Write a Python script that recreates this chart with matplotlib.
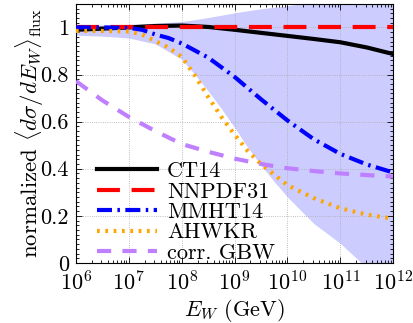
import numpy as np
import matplotlib
matplotlib.use("Agg")
import matplotlib.pyplot as plt
from matplotlib.ticker import MultipleLocator, FuncFormatter, LogLocator

plt.rcParams['font.family'] = 'serif'
plt.rcParams['font.serif'] = ['cmr10']
plt.rcParams['mathtext.fontset'] = 'cm'
plt.rcParams['axes.formatter.use_mathtext'] = True
plt.rcParams['font.size'] = 16

# log10(E_W / GeV) and curve values
logE_ct = [6, 6.5, 7, 7.5, 8, 8.5, 9, 9.5, 10, 10.5, 11, 11.5, 12]
ct14 = [0.99, 0.995, 1.0, 1.006, 1.008, 1.002, 0.99, 0.977, 0.964, 0.951, 0.937, 0.915, 0.887]

logE_nn = [6, 7, 8, 9, 10, 11, 12]
nnpdf31 = [1.0, 1.0, 1.0, 1.0, 1.0, 1.0, 1.0]

logE_mm = [6, 6.5, 7, 7.25, 7.5, 7.75, 8, 8.5, 9, 9.5, 10, 10.5, 11, 11.5, 12]
mmht14 = [1.0, 1.0, 0.998, 0.99, 0.97, 0.955, 0.932, 0.872, 0.79, 0.695, 0.605, 0.525, 0.463, 0.418, 0.384]

logE_ah = [6, 6.5, 7, 7.25, 7.5, 7.75, 8, 8.25, 8.5, 8.75, 9, 9.25, 9.5, 9.75, 10, 10.5, 11, 11.5, 12]
ahwkr = [0.985, 0.985, 0.983, 0.97, 0.942, 0.915, 0.875, 0.795, 0.705, 0.62, 0.545, 0.475, 0.42, 0.375, 0.33, 0.275, 0.232, 0.205, 0.188]

logE_gb = [6, 6.5, 7, 7.5, 8, 8.5, 9, 9.5, 10, 10.5, 11, 11.5, 12]
gbw = [0.772, 0.69, 0.62, 0.56, 0.505, 0.472, 0.443, 0.42, 0.402, 0.39, 0.38, 0.373, 0.367]

logE_band = [6, 6.5, 7, 7.5, 8, 8.25, 8.5, 8.75, 9, 9.25, 9.5, 9.75, 10, 10.5, 11, 11.4, 12]
band_lo = [0.967, 0.963, 0.955, 0.93, 0.865, 0.80, 0.73, 0.655, 0.575, 0.49, 0.415, 0.345, 0.28, 0.167, 0.083, 0.0, -0.12]
band_hi = [1.008, 1.01, 1.013, 1.018, 1.025, 1.033, 1.042, 1.052, 1.062, 1.071, 1.079, 1.086, 1.092, 1.108, 1.125, 1.135, 1.155]

E = lambda l: 10.0 ** np.array(l)

fig = plt.figure(figsize=(4.13, 3.23), dpi=100)
ax = fig.add_axes([0.184, 0.186, 0.768, 0.802])

ax.fill_between(E(logE_band), band_lo, band_hi, color='blue', alpha=0.2, lw=0, zorder=1)

lw = 3
ax.plot(E(logE_ct), ct14, color='black', lw=lw, label='CT14', zorder=3)
ax.plot(E(logE_nn), nnpdf31, color='red', lw=lw, dashes=(5.5, 2.8), label='NNPDF31', zorder=3)
ax.plot(E(logE_mm), mmht14, color='blue', lw=lw, dashes=(3.6, 1.3, 0.6, 1.3), label='MMHT14', zorder=3)
ax.plot(E(logE_ah), ahwkr, color='#ffa500', lw=lw, dashes=(0.65, 1.35), label='AHWKR', zorder=3)
ax.plot(E(logE_gb), gbw, color='#bf80ff', lw=lw, dashes=(3.4, 2.7), label='corr. GBW', zorder=3)

ax.set_xscale('log')
ax.set_xlim(1e6, 1e12)
ax.set_ylim(0, 1.1)
ax.xaxis.set_major_locator(LogLocator(base=10, numticks=10))
ax.xaxis.set_minor_locator(LogLocator(base=10, subs=np.arange(2, 10), numticks=20))
ax.yaxis.set_major_locator(MultipleLocator(0.2))
ax.yaxis.set_minor_locator(MultipleLocator(0.02))
ax.yaxis.set_major_formatter(FuncFormatter(lambda v, p: '%g' % round(v, 2)))

ax.tick_params(which='both', direction='in', top=True, right=True, width=0.6)
ax.tick_params(which='major', length=4.5, pad=5)
ax.tick_params(which='minor', length=2.5)
for s in ax.spines.values():
    s.set_linewidth(0.8)

ax.grid(True, which='major', color='#aaaaaa', linestyle=':', lw=0.6, zorder=0)

ax.set_xlabel(r'$E_W$ (GeV)', labelpad=2)
ax.set_ylabel(r'normalized $\langle d\sigma/dE_W\rangle_{\mathrm{flux}}$', fontsize=16.5, labelpad=-4)

ax.legend(loc='lower left', bbox_to_anchor=(0.066, 0.0), frameon=False,
          fontsize=16, handlelength=2.7, handletextpad=0.45, labelspacing=0.04,
          borderpad=0.0, borderaxespad=0)

fig.savefig('out.png', dpi=100)
